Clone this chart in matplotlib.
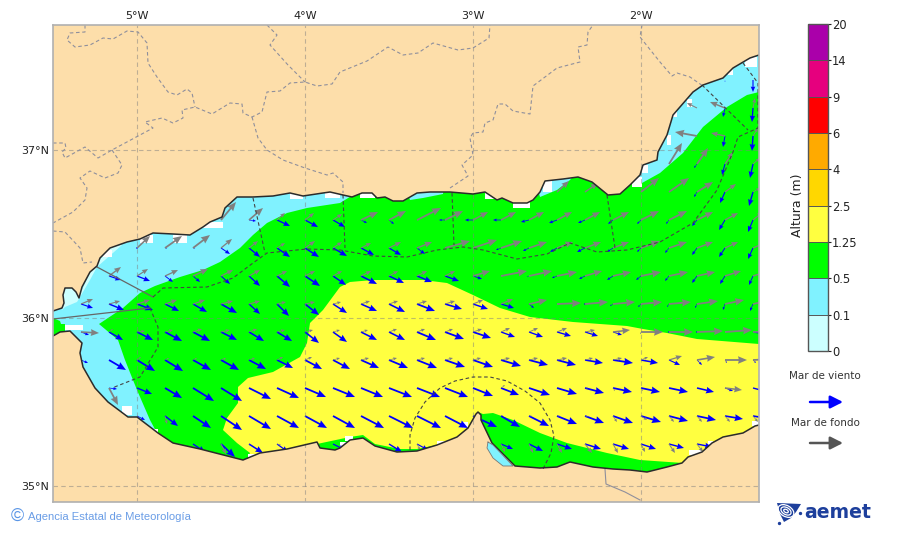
from __future__ import annotations

import matplotlib

matplotlib.use("Agg")

import matplotlib.pyplot as plt
import numpy as np
from matplotlib.colorbar import ColorbarBase
from matplotlib.colors import BoundaryNorm, ListedColormap
from matplotlib.patches import Ellipse, Polygon, Rectangle

n = np.nan

# map units are projected coordinates: 168 units per degree of lon/lat
MAP_W, MAP_H = 706, 477
LON_TICKS = [84, 252, 420, 588]
LON_LABELS = ["5°W", "4°W", "3°W", "2°W"]
LAT_TICKS = [16, 184, 352]
LAT_LABELS = ["35°N", "36°N", "37°N"]

LEVELS = [0, 1, 2, 3, 4, 5, 6, 7, 8, 9]
LEVEL_LABELS = ["0", "0.1", "0.5", "1.25", "2.5", "4", "6", "9", "14", "20"]
LEVEL_COLORS = ["#ccffff", "#80f2ff", "#00ff00", "#ffff40", "#ffd700",
                "#ffaa00", "#ff0000", "#e6007e", "#aa00aa"]
LAND_COLOR = "#fddeaa"

COAST_NORTH = [
    (0, 191), (9, 194), (11, 199), (10, 207), (12, 214), (19, 214), (23, 210), (26, 204),
    (29, 215), (37, 230), (44, 236), (47, 244), (57, 254), (74, 260), (87, 263), (100, 269),
    (120, 268), (137, 267), (150, 275), (157, 280), (169, 285), (172, 294), (184, 305),
    (200, 305), (220, 306), (237, 309), (250, 306), (270, 309), (277, 310), (290, 307),
    (299, 305), (309, 309), (319, 309), (324, 304), (332, 305), (340, 301), (350, 301),
    (364, 309), (377, 310), (397, 310), (420, 308), (432, 310), (444, 302), (449, 304),
    (460, 299), (474, 299), (480, 302), (487, 310), (492, 321), (510, 323), (525, 325),
    (539, 320), (555, 307), (567, 308), (577, 317), (587, 327), (590, 337), (604, 342),
    (605, 350), (614, 367), (620, 387), (640, 410), (650, 417), (670, 424), (680, 434),
    (697, 444), (706, 447),
]
COAST_SOUTH = [
    (0, 166), (7, 170), (17, 171), (29, 159), (27, 149), (30, 135), (42, 114), (55, 100),
    (75, 85), (84, 85), (105, 69), (120, 59), (147, 53), (190, 42), (207, 49), (234, 53),
    (264, 60), (267, 54), (282, 52), (287, 54), (297, 62), (310, 64), (322, 56), (344, 50),
    (364, 51), (384, 57), (404, 65), (415, 74), (423, 88), (425, 90), (428, 87), (428, 82),
    (439, 59), (462, 36), (487, 34), (504, 35), (517, 40), (540, 35), (560, 33), (577, 32),
    (594, 30), (614, 35), (629, 39), (635, 45), (649, 50), (659, 59), (670, 65), (690, 69),
    (702, 76), (706, 77),
]
LAGOON = [(435, 60), (440, 57), (460, 36), (450, 36), (440, 44), (434, 54)]

# wave height areas, drawn one over the other and trimmed by the land
AREA_LOWEST = [
    (9, 192), (10, 217), (27, 217), (29, 212), (37, 230), (57, 256), (69, 257), (44, 235),
    (37, 222), (27, 205), (24, 200), (12, 195),
]
AREA_GREEN = [
    (46, 178), (70, 194), (87, 209), (102, 216), (127, 225), (150, 232), (167, 240),
    (187, 254), (200, 267), (214, 279), (234, 289), (254, 294), (287, 299), (300, 307),
    (302, 317), (352, 317), (357, 302), (370, 304), (390, 308), (392, 322), (482, 322),
    (487, 305), (504, 312), (517, 322), (525, 332), (557, 332), (577, 327), (589, 319),
    (607, 329), (630, 349), (650, 375), (674, 395), (694, 407), (706, 410), (706, 0),
    (105, 0), (105, 62), (104, 69), (97, 82), (84, 112), (72, 142), (65, 162),
]
AREA_GREEN_STRAIT = [(0, 160), (0, 184), (7, 181), (8, 178), (12, 178), (12, 165)]
AREA_YELLOW = [
    (195, 44), (197, 49), (184, 59), (170, 72), (174, 84), (185, 99), (185, 115), (195, 124),
    (220, 130), (247, 145), (254, 159), (257, 179), (270, 192), (287, 215), (297, 220),
    (320, 222), (370, 222), (394, 219), (420, 207), (447, 194), (477, 185), (520, 180),
    (547, 178), (574, 176), (590, 173), (614, 169), (644, 163), (706, 158), (706, 70),
    (660, 50), (630, 39), (587, 42), (554, 49), (514, 59), (487, 69), (460, 82), (440, 89),
    (430, 88), (425, 90), (415, 70), (404, 60), (384, 57), (364, 53), (347, 53), (322, 58),
    (310, 67), (297, 65), (264, 58), (234, 50), (207, 46),
]
# coastal cells without data
NODATA_CELLS = [
    (50, 245, 9, 7), (87, 259, 13, 8), (120, 259, 14, 8), (150, 274, 20, 6), (237, 303, 13, 8),
    (272, 304, 15, 8), (307, 304, 15, 6), (432, 303, 12, 8), (460, 294, 17, 6), (490, 310, 9, 12),
    (579, 315, 10, 10), (589, 329, 6, 8), (614, 357, 4, 10), (620, 385, 4, 5), (634, 395, 5, 8),
    (675, 427, 5, 6), (692, 435, 12, 10), (636, 47, 13, 5), (655, 57, 5, 4), (699, 76, 7, 5),
    (69, 87, 10, 9), (99, 68, 6, 5), (195, 42, 12, 6), (287, 54, 7, 6), (292, 61, 8, 5),
    (384, 56, 8, 5), (410, 74, 5, 6), (12, 172, 18, 5),
]

LAND_BORDERS = [
    [(32, 477), (32, 470), (17, 469), (14, 462), (22, 455), (37, 457), (50, 464), (60, 463),
     (74, 471), (85, 470), (94, 459), (95, 439), (104, 425), (115, 410), (124, 407), (134, 413),
     (139, 409), (142, 395)],
    [(0, 359), (12, 359), (13, 354), (9, 350), (12, 344), (32, 355), (45, 344), (59, 352),
     (100, 374), (92, 380), (109, 384), (120, 379), (130, 384), (129, 392), (142, 395), (159, 388),
     (177, 399), (189, 398), (190, 389), (199, 385), (209, 390), (214, 410), (227, 411), (237, 419),
     (252, 420), (264, 416), (279, 418), (287, 430), (314, 441), (335, 455), (350, 447), (365, 449),
     (380, 459), (405, 452), (420, 454), (436, 464), (437, 477)],
    [(59, 352), (69, 337), (65, 329), (52, 324), (37, 331), (27, 324), (34, 314), (32, 302),
     (20, 290), (0, 279)],
    [(0, 271), (12, 270), (27, 254), (30, 239), (39, 240)],
    [(199, 385), (205, 364), (214, 352), (230, 342), (252, 334), (274, 327), (280, 329), (290, 320),
     (290, 309)],
    [(214, 477), (224, 467), (217, 457), (235, 437), (252, 420)],
    [(397, 314), (415, 326), (409, 337), (420, 347), (417, 364), (420, 369), (430, 370), (432, 379),
     (440, 382), (445, 398), (452, 398), (460, 391), (477, 388), (480, 416), (504, 434), (527, 440),
     (525, 455), (534, 457), (535, 470), (540, 477)],
    [(589, 477), (587, 465), (607, 440), (619, 426), (624, 429), (637, 425), (650, 416)],
]
MOROCCO_BORDER = [(552, 33), (553, 18), (572, 10), (587, 2)]
STRAIT_LINES = [
    [(44, 235), (100, 205)],
    [(0, 183), (97, 194)],
]
SEA_LIMITS = [
    [(100, 205), (110, 214), (154, 215), (180, 224), (200, 239), (214, 249), (254, 253), (287, 252),
     (320, 246), (354, 245), (384, 252), (410, 255), (430, 252), (464, 243), (494, 248), (517, 259),
     (544, 250), (574, 252), (607, 260), (640, 279), (664, 312), (680, 350), (685, 365), (705, 374)],
    [(97, 194), (105, 175), (105, 155), (87, 125), (59, 114)],
    [(200, 304), (207, 272), (212, 249)],
    [(290, 307), (292, 254)],
    [(399, 309), (401, 257)],
    [(554, 307), (562, 254)],
    [(649, 417), (695, 372)],
    [(690, 439), (705, 419), (705, 374)],
    [(357, 52), (357, 67), (362, 84), (372, 100), (387, 114), (402, 121), (420, 125), (437, 125),
     (454, 121), (472, 111), (487, 99), (497, 82), (501, 66), (498, 49), (490, 33)],
]

# arrow grid, one value every 1/6 degree, rows from north to south
GRID_X = [28, 56, 84, 112, 140, 168, 196, 224, 252, 280, 308, 336, 364,
          392, 420, 448, 476, 504, 532, 560, 588, 616, 644, 672, 700]
GRID_Y = [422, 394, 366, 338, 310, 282, 254, 226, 198, 170, 142, 114, 86, 58]

WIND_U = [
    [n] * 23 + [0, 0],
    [n] * 23 + [-2, -1],
    [n] * 23 + [-2, -1],
    [n] * 22 + [-3, -3, -3],
    [n] * 22 + [-3, -5, -4],
    [n] * 6 + [7, 13, 13, 12, 6, 5, n, -6, -8, -8, -8, -8, -7, -5, -4, -3, -5, -6, -5],
    [n, n, 0, 2, 2, 9, 11, 13, 14, 14, 13, 12, 8, n, n, -5, -6, -7, -8, -6, -4, -4, -5, -6, -5],
    [n, 12, 13, 8, 7, 9, 11, 13, 15, 13, 16, 15, 15, 14, 9, n, -2, -5, -6, -6, -5, -4, -5, -5, -4],
    [12, 15, 16, 14, 14, 16, 11, 12, 14, 14, 16, 16, 18, 17, 15, 13, 5, n, -1, -3, -3, -2, -2, -2, -3],
    [8, 14, 16, 17, 17, 16, 15, 15, 14, 14, 16, 16, 19, 19, 18, 14, 14, 14, 13, 9, -1, -1, -1, n, 16],
    [7, 17, 18, 18, 18, 18, 17, 16, 17, 17, 18, 19, 20, 20, 20, 20, 19, 19, 18, 20, 17, 11, 5, 2, 3],
    [n, 8, 15, 17, 21, 21, 22, 22, 21, 22, 22, 23, 23, 23, 20, 18, 21, 20, 19, 19, 19, 19, 17, 8, 15],
    [n, n, 8, 13, 18, 21, 22, 22, 22, 22, 23, 24, 24, 23, 24, 19, 20, 20, 19, 20, 20, 19, 19, 18, 18],
    [n, n, n, n, 12, 14, 14, 11, n, 12, n, 13, 11, n, n, 12, 14, 15, 16, 16, 15, 15, 15, n, n],
]
WIND_V = [
    [n] * 23 + [-2, -12],
    [n] * 23 + [-9, -14],
    [n] * 23 + [-11, -15],
    [n] * 22 + [-4, -11, -14],
    [n] * 22 + [-5, -11, -14],
    [n] * 6 + [-1, -6, -7, -7, -3, -4, n, 0, 0, 0, -2, -3, -3, -4, -4, -4, -6, -10, -12],
    [n, n, -1, -1, -1, -6, -9, -9, -9, -8, -7, -7, -6, n, n, -2, -3, -4, -4, -4, -4, -5, -7, -9, -11],
    [n, -4, -5, -6, -6, -8, -10, -11, -10, -9, -8, -7, -6, -5, -3, n, -1, -2, -3, -4, -4, -5, -7, -8, -9],
    [-4, -6, -6, -7, -8, -9, -10, -12, -11, -9, -7, -8, -7, -5, -5, -4, -4, n, 0, -2, -3, -3, -4, -6, -7],
    [-3, -8, -8, -9, -9, -8, -9, -9, -11, -10, -8, -8, -8, -7, -6, -5, -5, -4, -4, -3, -2, -1, -1, n, -2],
    [-3, -10, -11, -11, -10, -10, -9, -8, -9, -9, -8, -8, -8, -7, -7, -6, -5, -5, -3, -3, -3, -5, -5, -3, -3],
    [n, -1, -6, -10, -13, -13, -11, -10, -9, -9, -9, -9, -9, -9, -8, -7, -7, -6, -5, -4, -4, -4, -4, -3, -4],
    [n, n, -4, -10, -12, -14, -13, -12, -12, -12, -12, -12, -12, -12, -11, -11, -10, -8, -7, -7, -6, -5, -4, -3, -3],
    [n, n, n, n, -8, -13, -9, -8, n, -6, n, -8, -6, n, n, -5, -7, -5, -5, -5, -5, -4, -3, n, n],
]
SWELL_U = [
    [n] * 25,
    [n] * 22 + [-10, -15, 2],
    [n] * 22 + [-22, -14, 5],
    [n] * 21 + [13, 11, 8, 7],
    [n] * 17 + [12, 13, n, 18, 20, 16, 11, 7],
    [n] * 5 + [15, 14, 8, 9, 9, 17, 17, 24, 18, 15, 15, 15, 15, 15, 16, 18, 18, 16, 13, 10],
    [n, n, 13, 17, 17, 11, 9, 8, 10, 9, 10, 12, 15, 25, 24, 21, 18, 16, 16, 16, 19, 18, 16, 13, 14],
    [n, 12, 11, 13, 15, 12, 11, 10, 10, 9, 10, 9, 10, 10, 17, 26, 23, 20, 17, 18, 20, 19, 18, 16, 16],
    [12, 11, 13, 12, 12, 12, 11, 9, 10, 8, 9, 9, 10, 10, 10, 12, 18, 24, 23, 22, 21, 22, 21, 19, 19],
    [18, 4, 8, 8, 9, 9, 8, 8, 8, 7, 7, 8, 8, 8, 9, 9, 9, 10, 10, 17, 22, 24, 26, 27, 26],
    [n, n, 4, 4, 4, 5, 6, 6, 7, 7, 8, 8, 8, 8, 8, 9, 9, 10, 8, 9, 7, 13, 18, 22, 20],
    [n, 9, n, n, n, n, n, n, n, n, n, n, n, n, n, 4, n, n, 3, 2, 2, n, n, 17, n],
    [n, n, n, 2, n, n, n, n, n, n, n, n, n, n, n, 2, 3, 3, 3, 4, 6, 5, 5, 5, 5],
    [n, n, n, n, n, 5, 1, 4, n, n, n, n, 3, n, n, 4, 4, 5, 7, 5, 4, 6, 6, n, n],
]
SWELL_V = [
    [n] * 25,
    [n] * 22 + [5, 6, 10],
    [n] * 22 + [4, 3, 8],
    [n] * 21 + [21, 16, 12, 6],
    [n] * 17 + [11, 9, n, 14, 14, 10, 8, 4],
    [n] * 5 + [18, 12, 7, 7, 6, 8, 9, 12, 9, 8, 8, 8, 8, 8, 8, 9, 9, 8, 7, 8],
    [n, n, 12, 12, 13, 9, 7, 5, 7, 6, 5, 6, 6, 7, 8, 7, 6, 6, 6, 6, 7, 6, 6, 6, 6],
    [n, 9, 7, 6, 7, 6, 6, 5, 5, 5, 5, 5, 5, 5, 5, 5, 5, 4, 5, 4, 4, 4, 4, 5, 5],
    [5, 3, 4, 4, 4, 3, 3, 2, 2, 2, 3, 3, 3, 3, 4, 5, 4, 1, 2, 2, 2, 2, 3, 4, 4],
    [-1, 3, 1, 2, 3, 2, 3, 2, 2, 2, 2, 3, 3, 3, 3, 4, 4, 4, 2, 2, 0, 0, 1, 2, 1],
    [n, n, 3, 2, 2, 2, 2, 3, 3, 2, 2, 2, 2, 2, 2, 2, 2, 2, 2, 2, 3, 4, 3, 0, 1],
    [n, -17, n, n, n, n, n, n, n, n, n, n, n, n, n, 3, n, n, 0, -3, -3, n, n, -2, n],
    [n, n, n, -8, n, n, n, n, n, n, n, n, n, n, n, 1, 0, 0, -1, -6, -4, -6, -6, -6, -6],
    [n, n, n, n, n, -10, -2, -1, n, n, n, n, -6, n, n, -8, -9, -9, -9, -9, -8, -9, -8, n, n],
]

FIG_W, FIG_H = 900, 533


def _px_axes(fig, left: float, top: float, right: float, bottom: float):
    return fig.add_axes([left / FIG_W, 1 - bottom / FIG_H, (right - left) / FIG_W, (bottom - top) / FIG_H])


def _fill(ax, points, color, zorder=1.0):
    ax.add_patch(Polygon(points, closed=True, facecolor=color, edgecolor="none", zorder=zorder))


def _lines(ax, paths, **style):
    for path in paths:
        xy = np.asarray(path, dtype=float)
        ax.plot(xy[:, 0], xy[:, 1], **style)


def _draw_arrows(ax, u, v, color, zorder):
    x, y = np.meshgrid(GRID_X, GRID_Y)
    ax.quiver(
        x, y, np.asarray(u, dtype=float), np.asarray(v, dtype=float),
        color=color, angles="xy", scale_units="xy", scale=1, units="dots",
        width=1.8, headwidth=4.2, headlength=5.0, headaxislength=4.6, minshaft=2.2, zorder=zorder,
    )


def _draw_map(fig):
    ax = _px_axes(fig, 53, 25, 759, 502)
    ax.set_xlim(0, MAP_W)
    ax.set_ylim(0, MAP_H)
    ax.set_facecolor(LEVEL_COLORS[1])

    _fill(ax, AREA_LOWEST, LEVEL_COLORS[0], 1.0)
    _fill(ax, AREA_GREEN, LEVEL_COLORS[2], 1.01)
    _fill(ax, AREA_GREEN_STRAIT, LEVEL_COLORS[2], 1.01)
    _fill(ax, AREA_YELLOW, LEVEL_COLORS[3], 1.02)
    for x0, y0, w, h in NODATA_CELLS:
        ax.add_patch(Rectangle((x0, y0), w, h, facecolor="white", edgecolor="none", zorder=1.03))

    # arrows go under the land so the coast trims them
    _draw_arrows(ax, WIND_U, WIND_V, "#0000ff", 1.1)
    _draw_arrows(ax, SWELL_U, SWELL_V, "#808080", 1.15)

    north = COAST_NORTH + [(MAP_W, MAP_H), (0, MAP_H)]
    south = COAST_SOUTH + [(MAP_W, 0), (0, 0)]
    _fill(ax, north, LAND_COLOR, 1.2)
    _fill(ax, south, LAND_COLOR, 1.2)
    _fill(ax, LAGOON, LEVEL_COLORS[1], 1.25)

    ax.set_xticks(LON_TICKS, LON_LABELS)
    ax.set_yticks(LAT_TICKS, LAT_LABELS)
    ax.xaxis.tick_top()
    ax.tick_params(length=0, labelsize=8, pad=3, colors="#222222")
    ax.grid(True, color="#808080", alpha=0.5, linewidth=0.8, linestyle=(0, (4, 3)))

    _lines(ax, LAND_BORDERS, color="#8f8f9c", linewidth=0.8, linestyle=(0, (3.2, 2.4)), zorder=1.7)
    _lines(ax, [MOROCCO_BORDER], color="#8f8f9c", linewidth=0.8, zorder=1.7)
    _lines(ax, STRAIT_LINES, color="#666666", linewidth=0.9, zorder=1.8)
    _lines(ax, SEA_LIMITS, color="#444444", linewidth=0.8, linestyle=(0, (3.2, 2.4)), zorder=1.8)
    _lines(ax, [COAST_NORTH, COAST_SOUTH], color="#2b2b2b", linewidth=1.1, zorder=2)
    _lines(ax, [LAGOON + LAGOON[:1]], color="#777777", linewidth=0.6, zorder=2)

    for spine in ax.spines.values():
        spine.set_color("#b0b0b0")
        spine.set_linewidth(1.2)


def _draw_colorbar(fig):
    cax = _px_axes(fig, 808, 24, 828, 351)
    cb = ColorbarBase(
        cax,
        cmap=ListedColormap(LEVEL_COLORS),
        norm=BoundaryNorm(LEVELS, len(LEVEL_COLORS)),
        spacing="uniform",
        ticks=LEVELS,
        drawedges=True,
    )
    cb.set_ticklabels(LEVEL_LABELS)
    cb.ax.tick_params(labelsize=8.3, length=2, width=0.8, pad=1, colors="#222222")
    cb.outline.set_edgecolor("#555555")
    cb.outline.set_linewidth(1.0)
    cb.dividers.set_color("#555555")
    cb.dividers.set_linewidth(0.7)
    fig.text(798 / FIG_W, 1 - 205 / FIG_H, "Altura (m)", rotation=90, ha="center", va="center",
             fontsize=9, color="#222222")


def _draw_legend(fig):
    leg = _px_axes(fig, 770, 360, 880, 460)
    leg.set_xlim(770, 880)
    leg.set_ylim(460, 360)
    leg.axis("off")
    leg.text(825, 376, "Mar de viento", ha="center", va="center", fontsize=7.5, color="#333333")
    leg.text(825, 423, "Mar de fondo", ha="center", va="center", fontsize=7.5, color="#333333")
    for y, color in ((402, "#0000ff"), (443, "#555555")):
        leg.annotate("", xy=(843, y), xytext=(810, y),
                     arrowprops=dict(arrowstyle="-|>,head_length=0.75,head_width=0.38",
                                     color=color, lw=1.8, shrinkA=0, shrinkB=0))


def _draw_footer(fig):
    fig.text(17 / FIG_W, 1 - 516 / FIG_H, "©", ha="center", va="center", fontsize=13, color="#5b96e6",
             family="Liberation Sans")
    fig.text(28 / FIG_W, 1 - 516.5 / FIG_H, "Agencia Estatal de Meteorología", ha="left", va="center",
             fontsize=8.1, color="#6a9de6", family="Liberation Sans")

    navy = "#1d3f9c"
    logo = _px_axes(fig, 775, 500, 803, 526)
    logo.set_xlim(775, 803)
    logo.set_ylim(526, 500)
    logo.axis("off")
    logo.add_patch(Polygon([(777, 503), (801, 504), (796, 512), (791, 518), (784, 522), (780, 514)],
                           closed=True, facecolor=navy, edgecolor="none"))
    for w, h in ((17, 11), (11, 7), (5, 3)):
        logo.add_patch(Ellipse((786, 511), w, h, angle=30, facecolor="none", edgecolor="white", linewidth=0.9))
    logo.plot([800, 779], [513, 523], linestyle="none", marker="o", markersize=1.4, color=navy)
    fig.text(804 / FIG_W, 1 - 513 / FIG_H, "aemet", ha="left", va="center", fontsize=13.6,
             fontweight="bold", color=navy)


def main() -> int:
    fig = plt.figure(figsize=(FIG_W / 100, FIG_H / 100), dpi=100, facecolor="white")
    _draw_map(fig)
    _draw_colorbar(fig)
    _draw_legend(fig)
    _draw_footer(fig)
    fig.savefig("out.png", dpi=100)
    plt.close(fig)
    return 0


if __name__ == "__main__":
    raise SystemExit(main())
